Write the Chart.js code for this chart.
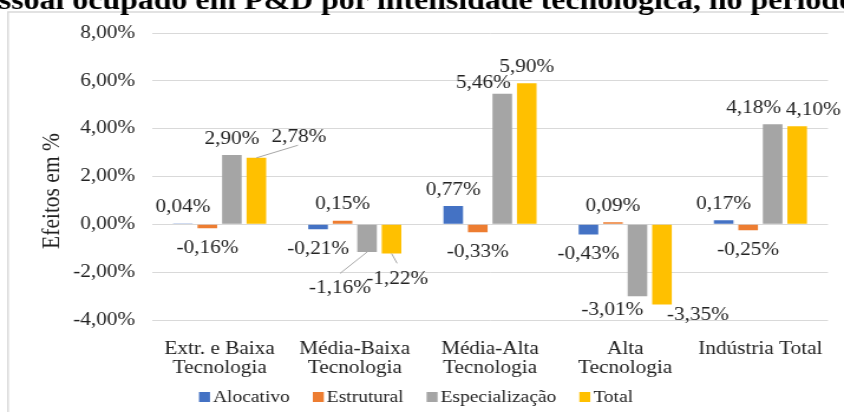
<!DOCTYPE html>
<html>
<head>
<meta charset="utf-8">
<script src="https://cdn.jsdelivr.net/npm/chart.js@4/dist/chart.umd.min.js"></script>
<style>
html,body{margin:0;padding:0;background:#fff;overflow:hidden;}
#c{display:block;width:715px;height:412px;transform:scaleX(1.1804);transform-origin:0 0;}
</style>
</head>
<body>
<canvas id="c" width="715" height="412"></canvas>
<script>
// ---- data ----
const categories = [['Extr. e Baixa','Tecnologia'],['Média-Baixa','Tecnologia'],['Média-Alta','Tecnologia'],['Alta','Tecnologia'],'Indústria Total'];
const seriesNames = ['Alocativo','Estrutural','Especialização','Total'];
const alocativo      = [0.04, -0.21, 0.77, -0.43, 0.17];
const estrutural     = [-0.16, 0.15, -0.33, 0.09, -0.25];
const especializacao = [2.90, -1.16, 5.46, -3.01, 4.18];
const total          = [2.78, -1.22, 5.90, -3.35, 4.10];
const yTickValues = [-4, -2, 0, 2, 4, 6, 8];
const yAxisTitle = 'Efeitos em %';
const chartTitle = 'Pessoal ocupado em P&D por intensidade tecnológica, no período';

// ---- styles ----
const S = 1.1804; // horizontal stretch of the reference picture
const colors = ['#4472C4', '#ED7D31', '#A5A5A5', '#FFC000'];
const FONT = "'Liberation Serif', 'Times New Roman', serif";
const TEXT = '#222222';
const GRID = '#D9D9D9';
// label adjustments (reference px) keyed "dataset-index"
const labelAdjust = {
  '3-0': {dx: 42.6, dy: -4.6, leader: {ex: -1, ey: 8}},
  '2-1': {dx: -27, dy: 16.3, leader: {ex: 0, ey: -15}},
  '3-1': {dx: 5.5, dy: 5.8, leader: {ex: 0, ey: -16}},
  '2-2': {dx: -19, dy: 5.5},
  '2-3': {dx: -25, dy: -6},
  '3-3': {dx: 36, dy: -9},
  '2-4': {dx: -19, dy: 0},
  '3-4': {dx: 16, dy: 0}
};
const fmt = v => v.toFixed(2).replace('.', ',') + '%';

const decorPlugin = {
  id: 'decor',
  beforeDraw(chart) {
    const ctx = chart.ctx;
    ctx.save();
    ctx.strokeStyle = GRID;
    ctx.lineWidth = 1.5;
    ctx.strokeRect(8 / S, 12, 900, 500);
    ctx.restore();
  },
  afterDatasetsDraw(chart) {
    const ctx = chart.ctx;
    ctx.save();
    ctx.font = '18px ' + FONT;
    ctx.fillStyle = TEXT;
    ctx.textAlign = 'center';
    ctx.textBaseline = 'middle';
    chart.data.datasets.forEach((ds, di) => {
      const meta = chart.getDatasetMeta(di);
      meta.data.forEach((bar, i) => {
        const v = ds.data[i];
        const top = Math.min(bar.y, bar.base), bottom = Math.max(bar.y, bar.base);
        let x = bar.x, y = v >= 0 ? top - 16 : bottom + 20;
        const adj = labelAdjust[di + '-' + i];
        if (adj) {
          x += adj.dx / S; y += adj.dy;
          if (adj.leader) {
            const sy = v >= 0 ? top : bottom;
            ctx.save();
            ctx.strokeStyle = '#A6A6A6';
            ctx.lineWidth = 1;
            ctx.beginPath();
            ctx.moveTo(bar.x, sy);
            ctx.lineTo(x + adj.leader.ex / S, y + adj.leader.ey);
            ctx.stroke();
            ctx.restore();
          }
        }
        ctx.fillText(fmt(v), x, y);
      });
    });
    ctx.restore();
  },
  afterDraw(chart) {
    const ctx = chart.ctx;
    ctx.save();
    // cropped title
    ctx.font = 'bold 27px ' + FONT;
    ctx.fillStyle = '#000';
    ctx.textBaseline = 'alphabetic';
    ctx.textAlign = 'left';
    const pre = ctx.measureText('Pe').width;
    ctx.fillText(chartTitle, -pre - 1, 8.5);
    // y axis title
    ctx.font = '21.5px ' + FONT;
    ctx.fillStyle = TEXT;
    ctx.translate(52 / S, 191);
    ctx.rotate(-Math.PI / 2);
    ctx.textAlign = 'center';
    ctx.textBaseline = 'middle';
    ctx.fillText(yAxisTitle, 0, 0);
    ctx.restore();
    // legend
    ctx.save();
    ctx.font = '16.5px ' + FONT;
    ctx.textBaseline = 'alphabetic';
    ctx.textAlign = 'left';
    let lx = 199 / S;
    chart.data.datasets.forEach((ds) => {
      ctx.fillStyle = ds.backgroundColor;
      ctx.fillRect(lx, 392, 11 / S, 10);
      lx += 14 / S;
      ctx.fillStyle = TEXT;
      ctx.fillText(ds.label, lx, 401.5);
      lx += ctx.measureText(ds.label).width + 23 / S;
    });
    ctx.restore();
  }
};

new Chart(document.getElementById('c'), {
  type: 'bar',
  data: {
    labels: categories,
    datasets: [alocativo, estrutural, especializacao, total].map((d, k) => ({
      label: seriesNames[k],
      data: d,
      backgroundColor: colors[k],
      borderWidth: 0,
      categoryPercentage: 0.725,
      barPercentage: 0.8
    }))
  },
  options: {
    responsive: false,
    devicePixelRatio: 1,
    animation: false,
    layout: {padding: {top: 33, right: 715 - 828 / S, bottom: 0, left: 0}},
    plugins: {legend: {display: false}, title: {display: false}, tooltip: {enabled: false}},
    scales: {
      x: {
        grid: {display: false},
        border: {display: false},
        ticks: {
          color: TEXT,
          font: {family: FONT, size: 18, lineHeight: 19 / 18},
          padding: 11.5,
          maxRotation: 0,
          autoSkip: false
        },
        afterFit(scale) { scale.height = 92; }
      },
      y: {
        min: yTickValues[0],
        max: yTickValues[yTickValues.length - 1],
        afterBuildTicks(scale) { scale.ticks = yTickValues.map(v => ({value: v})); },
        grid: {color: GRID, lineWidth: 1, drawTicks: false},
        border: {display: false},
        ticks: {
          color: TEXT,
          font: {family: FONT, size: 18},
          padding: 14.4,
          callback: v => fmt(v)
        },
        afterFit(scale) { scale.width = 152 / S; }
      }
    }
  },
  plugins: [decorPlugin]
});
</script>
</body>
</html>
